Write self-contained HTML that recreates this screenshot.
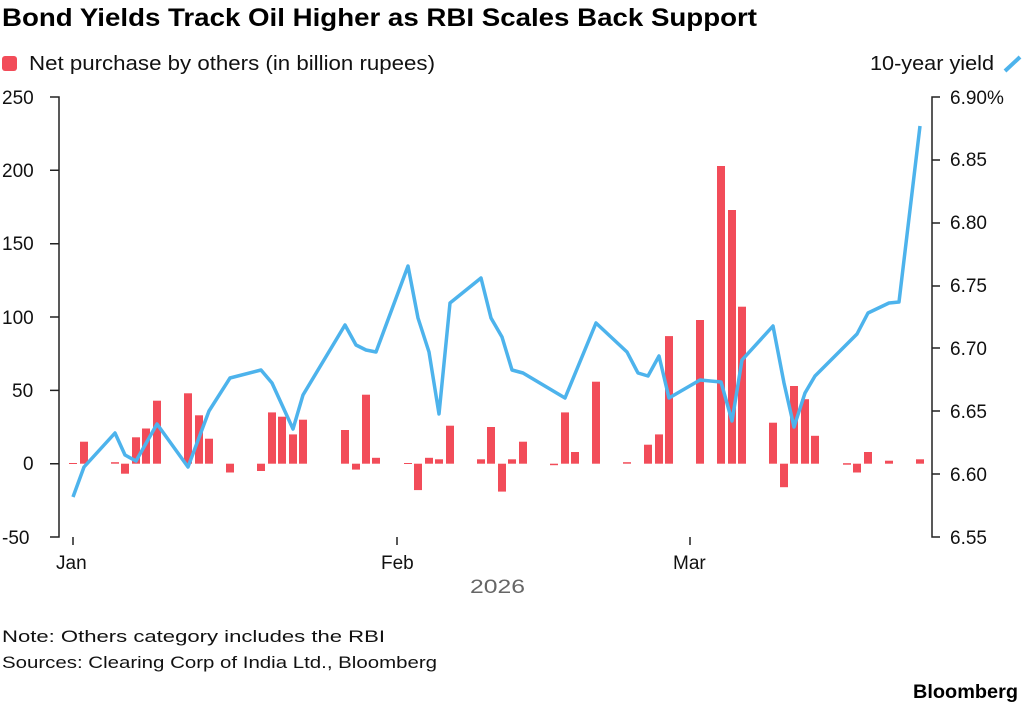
<!DOCTYPE html>
<html><head><meta charset="utf-8"><style>
body{margin:0;background:#fff;width:1024px;height:706px;overflow:hidden;font-family:"Liberation Sans",sans-serif}
</style></head><body>
<svg width="1024" height="706" xmlns="http://www.w3.org/2000/svg" font-family="Liberation Sans, sans-serif">
<text x="2" y="26" font-size="25" font-weight="bold" fill="#000" textLength="755" lengthAdjust="spacingAndGlyphs">Bond Yields Track Oil Higher as RBI Scales Back Support</text>
<rect x="2" y="56" width="15" height="15" rx="3" fill="#f24c59"/>
<text x="29" y="70" font-size="20" fill="#111" textLength="406" lengthAdjust="spacingAndGlyphs">Net purchase by others (in billion rupees)</text>
<text x="994" y="70" font-size="20" fill="#111" text-anchor="end" textLength="124" lengthAdjust="spacingAndGlyphs">10-year yield</text>
<line x1="1005" y1="71" x2="1020" y2="57" stroke="#4db3ec" stroke-width="4"/>
<g font-size="19" fill="#111">
<text x="2" y="104">250</text><text x="2" y="177">200</text><text x="2" y="250">150</text><text x="2" y="324">100</text><text x="12" y="397">50</text><text x="23" y="470">0</text><text x="2" y="544">-50</text>
<text x="950" y="104">6.90%</text><text x="950" y="166">6.85</text><text x="950" y="229">6.80</text><text x="950" y="292">6.75</text><text x="950" y="355">6.70</text><text x="950" y="418">6.65</text><text x="950" y="481">6.60</text><text x="950" y="544">6.55</text>
<text x="56" y="569">Jan</text><text x="381" y="569">Feb</text><text x="673" y="569">Mar</text>
<text x="470" y="593" fill="#666" textLength="55" lengthAdjust="spacingAndGlyphs">2026</text>
<text x="2" y="642" font-size="17" textLength="383" lengthAdjust="spacingAndGlyphs">Note: Others category includes the RBI</text>
<text x="2" y="668" font-size="17" textLength="435" lengthAdjust="spacingAndGlyphs">Sources: Clearing Corp of India Ltd., Bloomberg</text>
</g>
<text x="1018" y="698" font-size="19" font-weight="bold" text-anchor="end" fill="#000" textLength="105" lengthAdjust="spacingAndGlyphs">Bloomberg</text>
<g stroke="#222" stroke-width="1.5" fill="none">
<path d="M50 97H59V537H50M59 463.7H50M59 390.4H50M59 317H50M59 243.7H50M59 170.3H50"/>
<path d="M940 97H932V537H940M932 160H940M932 223H940M932 286H940M932 348H940M932 411H940M932 474H940"/>
<path d="M73 545V537M397 545V537M690 545V537"/>
</g>
<g fill="#f24c59">
<rect x="69" y="463" width="8" height="1"/>
<rect x="80" y="441.7" width="8" height="22"/>
<rect x="111" y="462.2" width="8" height="1.5"/>
<rect x="121" y="463.7" width="8" height="10"/>
<rect x="132" y="437.3" width="8" height="26.4"/>
<rect x="142" y="428.5" width="8" height="35.2"/>
<rect x="153" y="400.7" width="8" height="63"/>
<rect x="184" y="393.3" width="8" height="70.4"/>
<rect x="195" y="415.3" width="8" height="48.4"/>
<rect x="205" y="438.7" width="8" height="25"/>
<rect x="226" y="463.7" width="8" height="8.8"/>
<rect x="257" y="463.7" width="8" height="7.3"/>
<rect x="268" y="412.4" width="8" height="51.3"/>
<rect x="278" y="416.7" width="8" height="47"/>
<rect x="289" y="434.4" width="8" height="29.3"/>
<rect x="299" y="419.7" width="8" height="44"/>
<rect x="341" y="430" width="8" height="33.7"/>
<rect x="352" y="463.7" width="8" height="5.9"/>
<rect x="362" y="394.7" width="8" height="69"/>
<rect x="372" y="457.8" width="8" height="5.9"/>
<rect x="404" y="463" width="8" height="1"/>
<rect x="414" y="463.7" width="8" height="26.4"/>
<rect x="425" y="457.8" width="8" height="5.9"/>
<rect x="435" y="459.3" width="8" height="4.4"/>
<rect x="446" y="425.7" width="8" height="38"/>
<rect x="477" y="459.3" width="8" height="4.4"/>
<rect x="487" y="427" width="8" height="36.7"/>
<rect x="498" y="463.7" width="8" height="27.9"/>
<rect x="508" y="459.3" width="8" height="4.4"/>
<rect x="519" y="441.7" width="8" height="22"/>
<rect x="550" y="463.7" width="8" height="1.5"/>
<rect x="561" y="412.4" width="8" height="51.3"/>
<rect x="571" y="452" width="8" height="11.7"/>
<rect x="592" y="381.7" width="8" height="82"/>
<rect x="623" y="462.2" width="8" height="1.5"/>
<rect x="644" y="444.7" width="8" height="19"/>
<rect x="655" y="434.4" width="8" height="29.3"/>
<rect x="665" y="336.1" width="8" height="127.6"/>
<rect x="696" y="320" width="8" height="143.7"/>
<rect x="717" y="166" width="8" height="297.7"/>
<rect x="728" y="210" width="8" height="253.7"/>
<rect x="738" y="306.7" width="8" height="157"/>
<rect x="769" y="422.7" width="8" height="41"/>
<rect x="780" y="463.7" width="8" height="23.5"/>
<rect x="790" y="386" width="8" height="77.7"/>
<rect x="801" y="399.2" width="8" height="64.5"/>
<rect x="811" y="435.8" width="8" height="27.9"/>
<rect x="843" y="463.2" width="8" height="1.5"/>
<rect x="853" y="463.7" width="8" height="8.8"/>
<rect x="864" y="452" width="8" height="11.7"/>
<rect x="885" y="460.7" width="8" height="3"/>
<rect x="916" y="459.3" width="8" height="4.4"/>
</g>
<polyline fill="none" stroke="#4db3ec" stroke-width="3.5" stroke-linejoin="round" points="73,497 84,467 115,433 125,455 136,461 157,424 188,467 209,411 230,378 261,370 272,383 293,429 303,395 345,325 356,345 366,350 376,352 408,266 418,318 429,352 439,414 450,303 481,278 491,318 502,337 512,370 523,373 565,398 596,323 627,352 638,373 648,376 659,356 669,398 700,380 721,382 732,421 742,360 773,326 784,383 794,427 805,393 815,376 857,334 868,313 889,303 899,302 920,126"/>
</svg>
</body></html>
